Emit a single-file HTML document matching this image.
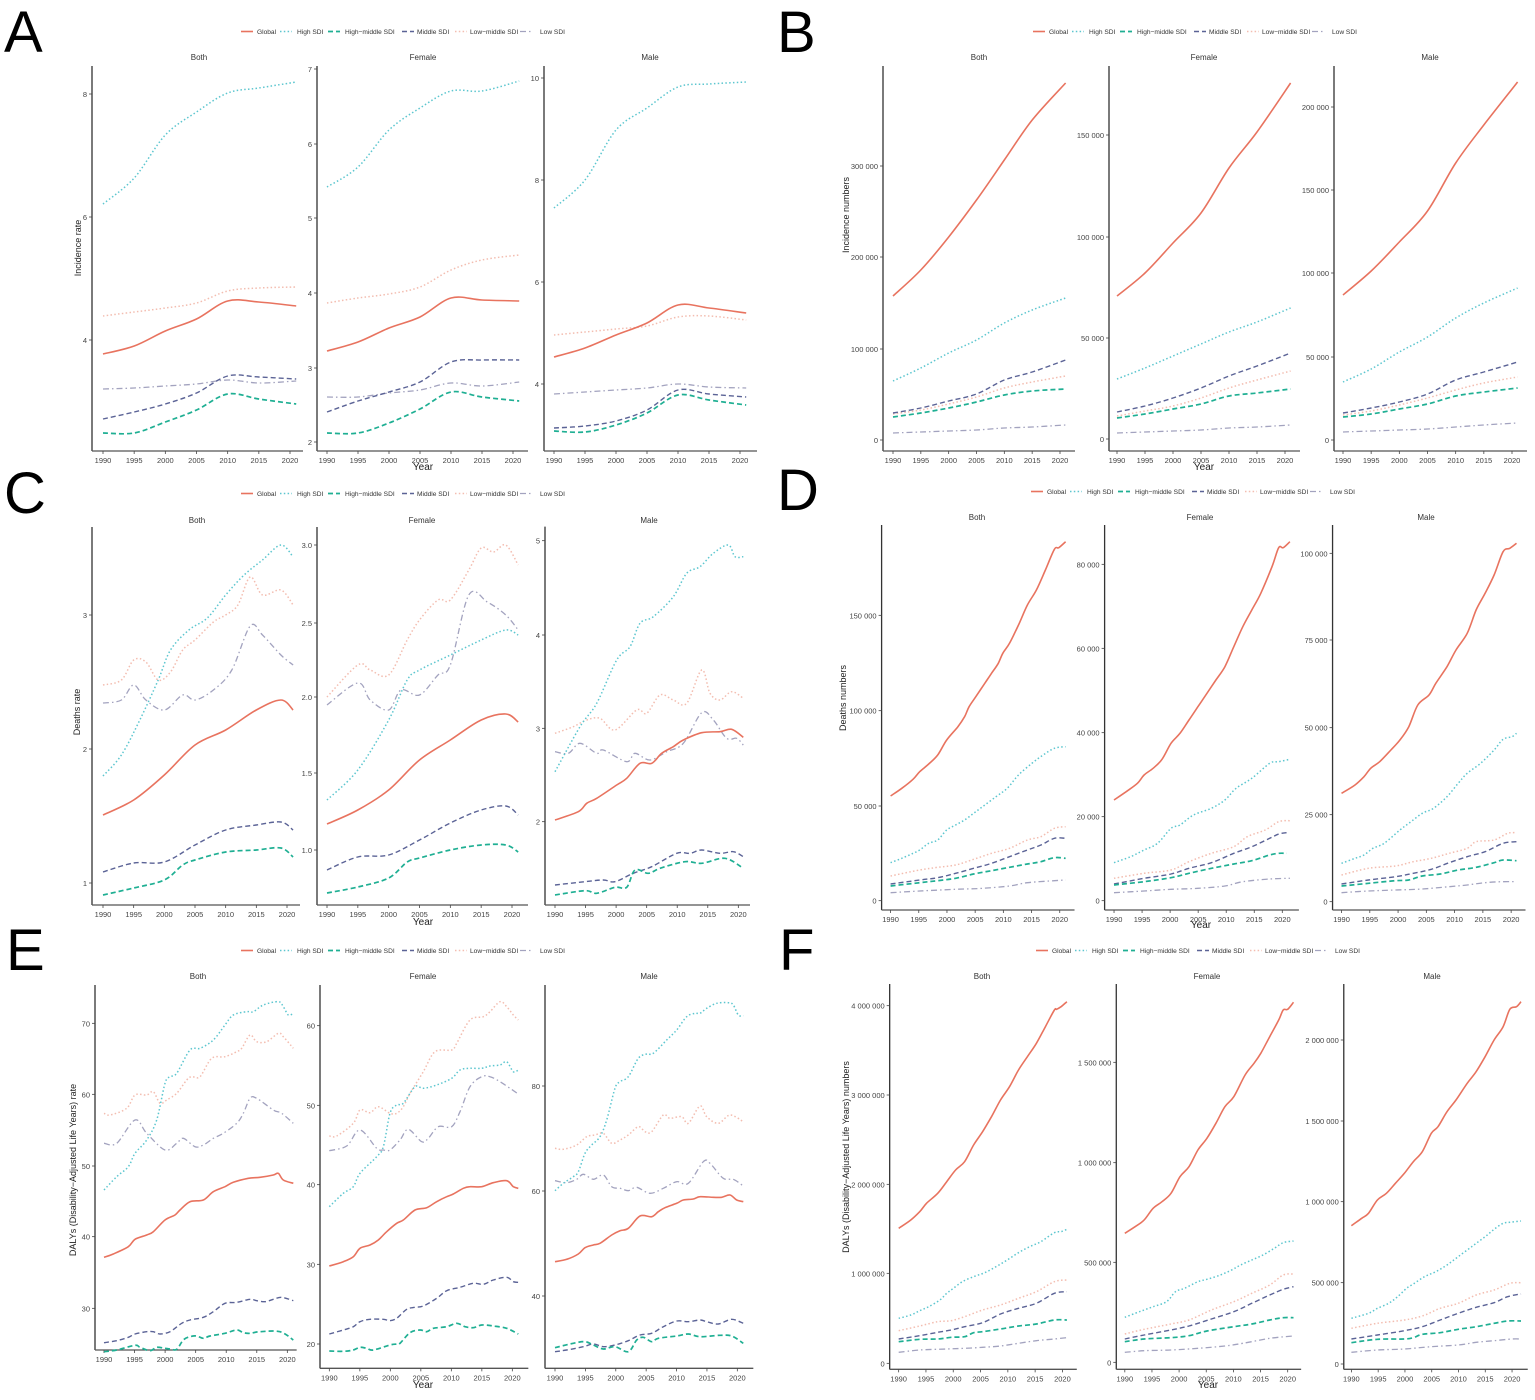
<!DOCTYPE html>
<html><head><meta charset="utf-8">
<style>
html,body{margin:0;padding:0;background:#fff;}
svg{display:block;font-family:"Liberation Sans",Arial,sans-serif;}
.lt{font-size:6.6px;fill:#333;}
.ft{font-size:8px;fill:#333;text-anchor:middle;}
.let{font-size:58px;fill:#000;}
.yt{font-size:9px;fill:#222;text-anchor:middle;}
.xt{font-size:10px;fill:#222;text-anchor:middle;}
</style></head><body>
<svg id="s" width="1535" height="1400" viewBox="0 0 1535 1400" xmlns="http://www.w3.org/2000/svg">
<rect width="1535" height="1400" fill="#fff"/>
<text class="let" x="4" y="52">A</text>
<text class="let" x="777" y="52">B</text>
<text class="let" x="4" y="513">C</text>
<text class="let" x="777" y="510">D</text>
<text class="let" x="6" y="970">E</text>
<text class="let" x="779" y="970">F</text>

<g id="legends"></g>

<text class="ft" x="199" y="60">Both</text><text class="ft" x="423" y="60">Female</text><text class="ft" x="650" y="60">Male</text>
<text class="ft" x="979" y="60">Both</text><text class="ft" x="1204" y="60">Female</text><text class="ft" x="1430" y="60">Male</text>
<text class="ft" x="197" y="523">Both</text><text class="ft" x="422" y="523">Female</text><text class="ft" x="649" y="523">Male</text>
<text class="ft" x="977" y="520">Both</text><text class="ft" x="1200" y="520">Female</text><text class="ft" x="1426" y="520">Male</text>
<text class="ft" x="198" y="979">Both</text><text class="ft" x="423" y="979">Female</text><text class="ft" x="649" y="979">Male</text>
<text class="ft" x="982" y="979">Both</text><text class="ft" x="1207" y="979">Female</text><text class="ft" x="1432" y="979">Male</text>

<text class="yt" transform="translate(81,248) rotate(-90)">Incidence rate</text>
<text class="yt" transform="translate(849,215) rotate(-90)">Incidence numbers</text>
<text class="yt" transform="translate(80,712) rotate(-90)">Deaths rate</text>
<text class="yt" transform="translate(846,698) rotate(-90)">Deaths numbers</text>
<text class="yt" transform="translate(76,1170) rotate(-90)">DALYs (Disability−Adjusted Life Years) rate</text>
<text class="yt" transform="translate(849,1157) rotate(-90)">DALYs (Disability−Adjusted Life Years) numbers</text>

<text class="xt" x="423" y="470">Year</text>
<text class="xt" x="1204" y="470">Year</text>
<text class="xt" x="423" y="925">Year</text>
<text class="xt" x="1201" y="928">Year</text>
<text class="xt" x="423" y="1388">Year</text>
<text class="xt" x="1208" y="1388">Year</text>

<g id="g"></g>
</svg>
<script>
const NS="http://www.w3.org/2000/svg";
const G=document.getElementById('g');
function el(t,a,p,txt){const e=document.createElementNS(NS,t);for(const k in a)e.setAttribute(k,a[k]);if(txt!==undefined)e.textContent=txt;(p||G).appendChild(e);return e;}
const ST={G:['#E8735F','',1.6],H:['#5CC6CF','1.5 2.3',1.5],HM:['#1FAF93','5 3',1.7],M:['#5B6396','5 3',1.4],LM:['#F3BDB0','1.5 2.3',1.5],L:['#A3A3BF','6 3 1.5 3',1.3]};
const ORDER=['L','LM','M','HM','H','G'];
const LEGN=['Global','High SDI','High−middle SDI','Middle SDI','Low−middle SDI','Low SDI'];
const LEGK=['G','H','HM','M','LM','L'];
const YEARS=["1990","1995","2000","2005","2010","2015","2020"];
const LG=document.getElementById('legends');
function legend(x0,y){const lx=[0,39,87,161,214,279],tx=[16,56,104,176,229,299];
 for(let i=0;i<6;i++){const s=ST[LEGK[i]];
  el('line',{x1:x0+lx[i],y1:y-2.5,x2:x0+lx[i]+12,y2:y-2.5,stroke:s[0],'stroke-width':s[2],'stroke-dasharray':s[1]},LG);
  el('text',{x:x0+tx[i],y:y,'class':'lt'},LG,LEGN[i]);}}
legend(241,34);legend(1033,34);legend(241,496);legend(1031,494);legend(241,953);legend(1036,953);

function path(pts){if(pts.length<2)return'';let d='M'+pts[0][0].toFixed(1)+','+pts[0][1].toFixed(1);
 for(let i=0;i<pts.length-1;i++){const p0=pts[Math.max(0,i-1)],p1=pts[i],p2=pts[i+1],p3=pts[Math.min(pts.length-1,i+2)];
  const c1=[p1[0]+(p2[0]-p0[0])/6,p1[1]+(p2[1]-p0[1])/6],c2=[p2[0]-(p3[0]-p1[0])/6,p2[1]-(p3[1]-p1[1])/6];
  d+='C'+c1[0].toFixed(1)+','+c1[1].toFixed(1)+' '+c2[0].toFixed(1)+','+c2[1].toFixed(1)+' '+p2[0].toFixed(1)+','+p2[1].toFixed(1);}
 return d;}

const YR=[1990,1995,2000,2005,2010,2015,2021];
function draw(f){
 const z=f.z; const fx=z?(v=>z[0]+v/z[2]):(v=>v), fy=z?(v=>z[1]+v/z[3]):(v=>v);
 const ax=fx(f.ax),rt=fx(f.rt),top=fy(f.top),bot=fy(f.bot),x0=fx(f.x0),x1=fx(f.x1);
 const k=(x1-x0)/30;
 el('line',{x1:ax,y1:top,x2:ax,y2:bot,stroke:'#333','stroke-width':1.3});
 el('line',{x1:ax,y1:bot,x2:rt,y2:bot,stroke:'#555','stroke-width':1.3});
 for(const [lab,yv] of f.yt){const Y=fy(yv);
  el('line',{x1:ax-3,y1:Y,x2:ax,y2:Y,stroke:'#444','stroke-width':0.8});
  el('text',{x:ax-5,y:Y+3,'font-size':'7.5',fill:'#444','text-anchor':'end'},null,lab);}
 YEARS.forEach((t,i)=>{const X=x0+i*5*k;
  el('line',{x1:X,y1:bot,x2:X,y2:bot+3,stroke:'#444','stroke-width':0.8});
  el('text',{x:X,y:bot+12,'font-size':'7.5',fill:'#444','text-anchor':'middle'},null,t);});
 for(const key of ORDER){const d=f.s[key];if(!d)continue;let pts;
  if(f.mode==='y') pts=d.map((y,i)=>[x0+(YR[i]-1990)*k,y]);
  else if(f.mode==='p') pts=d.map(p=>[x0+(p[0]-1990)*k,p[1]]);
  else pts=d.map(p=>[fx(p[0]),fy(p[1])]);
  const s=ST[key];
  el('path',{d:path(pts),fill:'none',stroke:s[0],'stroke-width':s[2],'stroke-dasharray':s[1],'stroke-linejoin':'round'});}
}
draw({mode:'y',ax:92,rt:303,top:66,bot:451,x0:103,x1:290,yt:[["8",94],["6",217],["4",340]],
 s:{H:[204,178,135,112,93,88,82],G:[354,346,331,319,301,302,306],LM:[316,312,308,303,291,288,287],L:[389,388,386,384,380,383,381],M:[419,412,404,393,376,377,379],HM:[433,433,422,410,394,399,404]}});
draw({mode:'y',ax:317,rt:528,top:66,bot:451,x0:327,x1:513,yt:[["7",69],["6",144],["5",218],["4",293],["3",368],["2",442]],
 s:{H:[187,167,130,108,91,91,81],G:[351,342,328,317,298,300,301],LM:[303,298,294,287,270,260,255],L:[397,397,393,390,383,386,382],M:[412,401,392,382,362,360,360],HM:[433,433,423,409,392,397,401]}});
draw({mode:'y',ax:544,rt:757,top:66,bot:451,x0:554,x1:740,yt:[["10",78],["8",180],["6",282],["4",384]],
 s:{H:[208,180,130,108,87,84,82],G:[357,348,335,323,305,308,313],LM:[335,332,329,326,317,316,320],L:[394,392,390,388,384,387,388],M:[428,426,421,410,390,394,397],HM:[431,432,425,413,395,400,405]}});
draw({mode:'y',ax:883,rt:1075,top:66,bot:451,x0:893,x1:1060,yt:[["0",440],["100 000",349],["200 000",257],["300 000",166]],
 s:{G:[296,270,237,200,160,120,83],H:[381,368,353,340,323,310,298],M:[413,408,401,394,380,372,360],LM:[414,410,404,397,388,382,376],HM:[417,413,408,402,395,391,389],L:[433,432,431,430,428,427,425]}});
draw({mode:'y',ax:1109,rt:1300,top:66,bot:451,x0:1117,x1:1285,yt:[["0",439],["50 000",338],["100 000",237],["150 000",135]],
 s:{G:[296,273,243,213,168,132,83],H:[379,368,356,344,332,322,308],M:[412,406,398,388,376,366,353],LM:[416,411,406,398,388,380,371],HM:[418,414,409,404,396,393,389],L:[433,432,431,430,428,427,425]}});
draw({mode:'y',ax:1334,rt:1527,top:66,bot:451,x0:1343,x1:1512,yt:[["0",440],["50 000",357],["100 000",273],["150 000",190],["200 000",107]],
 s:{G:[295,271,242,211,163,125,82],H:[382,369,352,337,318,303,288],M:[413,408,402,394,380,372,362],LM:[415,411,405,398,390,383,377],HM:[417,414,409,404,396,392,388],L:[432,431,430,429,427,425,423]}});
draw({mode:'p',ax:92,rt:300,top:527,bot:905,x0:103,x1:287,yt:[["3",615],["2",749],["1",883]],
 s:{H:[[1990,776],[1993,755],[1996,720],[1999,680],[2001,650],[2004,630],[2007,618],[2010,595],[2013,575],[2016,560],[2019,545],[2021,557]],
 LM:[[1990,685],[1993,680],[1995,660],[1997,662],[1999,680],[2001,672],[2003,650],[2005,640],[2008,622],[2010,615],[2012,605],[2014,577],[2016,595],[2019,590],[2021,605]],
 L:[[1990,703],[1993,700],[1995,685],[1997,700],[2000,710],[2003,695],[2005,700],[2008,690],[2011,670],[2014,626],[2016,635],[2019,655],[2021,665]],
 G:[[1990,815],[1995,800],[2000,775],[2005,745],[2010,730],[2015,710],[2019,700],[2021,710]],
 M:[[1990,872],[1995,863],[2000,862],[2005,845],[2010,830],[2015,825],[2019,822],[2021,830]],
 HM:[[1990,895],[1995,888],[2000,880],[2003,865],[2005,860],[2010,852],[2015,850],[2019,848],[2021,857]]}});
draw({mode:'p',ax:317,rt:528,top:527,bot:905,x0:327,x1:512,yt:[["3.0",545],["2.5",623],["2.0",697],["1.5",773],["1.0",850]],
 s:{H:[[1990,800],[1995,770],[2000,720],[2003,680],[2005,670],[2010,655],[2015,640],[2019,630],[2021,635]],
 LM:[[1990,697],[1995,665],[1997,670],[2000,675],[2003,640],[2005,620],[2008,600],[2010,600],[2013,570],[2015,548],[2017,552],[2019,545],[2021,565]],
 L:[[1990,705],[1995,683],[1997,700],[2000,710],[2002,690],[2005,695],[2008,675],[2010,665],[2013,595],[2016,602],[2019,615],[2021,630]],
 G:[[1990,824],[1995,810],[2000,790],[2005,760],[2010,740],[2015,720],[2019,714],[2021,722]],
 M:[[1990,870],[1995,857],[2000,855],[2005,840],[2010,823],[2015,810],[2019,806],[2021,815]],
 HM:[[1990,893],[1995,887],[2000,878],[2003,862],[2005,858],[2010,850],[2015,845],[2019,845],[2021,852]]}});
draw({mode:'z',z:[520,520,3,3],ax:75,rt:690,top:20,bot:1155,x0:105,x1:655,yt:[["5",62],["4",345],["3",625],["2",905]],
 s:{H:[[105,755],[180,620],[230,550],[290,420],[330,380],[360,310],[400,290],[460,230],[500,160],[540,140],[580,100],[625,75],[645,110],[670,110]],
 LM:[[105,640],[160,620],[200,600],[240,595],[285,630],[350,570],[380,580],[420,525],[460,540],[500,550],[545,450],[570,520],[600,540],[635,515],[670,535]],
 L:[[105,695],[145,700],[180,670],[230,700],[250,690],[320,725],[345,700],[390,720],[440,695],[490,670],[545,578],[580,600],[620,655],[650,655],[670,675]],
 G:[[105,900],[175,875],[200,850],[230,835],[290,795],[320,775],[360,730],[395,730],[425,700],[460,680],[490,660],[545,638],[600,635],[635,628],[670,652]],
 M:[[105,1095],[195,1085],[250,1080],[285,1085],[340,1060],[395,1040],[470,1000],[510,1000],[545,990],[600,1000],[640,995],[670,1010]],
 HM:[[105,1125],[195,1112],[230,1120],[285,1102],[320,1102],[345,1050],[385,1060],[420,1045],[495,1025],[545,1030],[615,1015],[670,1045]]}});
const DZ=[830,510,2.2286,3];
draw({mode:'z',z:DZ,ax:115,rt:545,top:45,bot:1200,x0:135,x1:512,yt:[["0",1172],["50 000",888],["100 000",602],["150 000",316]],
 s:{G:[[135,858],[160,835],[185,808],[200,785],[220,762],[240,735],[260,690],[285,650],[300,620],[310,590],[325,560],[345,520],[360,490],[375,460],[385,430],[400,400],[420,345],[440,285],[460,240],[480,180],[500,118],[510,113],[525,95]],
 H:[[135,1058],[160,1045],[185,1030],[200,1020],[220,1000],[240,990],[260,960],[280,945],[300,930],[320,910],[340,890],[370,860],[395,835],[420,795],[450,760],[475,735],[500,715],[525,710]],
 LM:[[135,1098],[200,1080],[240,1072],[280,1065],[320,1048],[360,1030],[400,1015],[440,990],[470,980],[500,955],[525,950]],
 M:[[135,1122],[200,1110],[240,1103],[280,1090],[320,1075],[360,1060],[400,1040],[440,1020],[470,1005],[500,985],[525,985]],
 HM:[[135,1128],[200,1118],[240,1112],[280,1105],[320,1092],[360,1082],[400,1072],[440,1062],[470,1055],[500,1043],[525,1045]],
 L:[[135,1148],[200,1143],[280,1138],[340,1135],[400,1128],[440,1118],[500,1112],[525,1110]]}});
draw({mode:'z',z:DZ,ax:612,rt:1045,top:45,bot:1200,x0:633,x1:1008,yt:[["0",1172],["20 000",920],["40 000",668],["60 000",415],["80 000",163]],
 s:{G:[[633,870],[660,845],[685,820],[700,795],[720,775],[740,748],[760,700],[780,670],[800,630],[820,590],[835,560],[860,510],[880,470],[900,410],[920,350],[940,300],[960,250],[985,170],[1000,113],[1010,113],[1025,95]],
 H:[[633,1058],[670,1040],[700,1020],[730,1000],[760,955],[780,945],[810,915],[850,895],[880,870],[905,835],[940,805],[980,760],[1000,755],[1025,748]],
 LM:[[633,1105],[700,1090],[760,1080],[800,1055],[850,1030],[900,1010],[930,980],[970,960],[1000,935],[1025,932]],
 M:[[633,1122],[700,1105],[760,1092],[800,1075],[850,1058],[900,1030],[940,1010],[980,985],[1000,972],[1018,968]],
 HM:[[633,1125],[700,1115],[760,1103],[800,1090],[850,1075],[900,1062],[940,1052],[980,1035],[1000,1030],[1018,1030]],
 L:[[633,1148],[700,1143],[760,1138],[820,1135],[880,1128],[920,1115],[980,1107],[1025,1105]]}});
draw({mode:'z',z:DZ,ax:1120,rt:1550,top:45,bot:1200,x0:1140,x1:1518,yt:[["0",1175],["25 000",914],["50 000",653],["75 000",390],["100 000",130]],
 s:{G:[[1140,850],[1170,825],[1190,800],[1205,775],[1225,755],[1250,720],[1270,690],[1290,650],[1310,585],[1335,555],[1350,520],[1375,470],[1395,420],[1420,370],[1440,300],[1460,250],[1480,195],[1500,125],[1515,115],[1530,100]],
 H:[[1140,1060],[1170,1045],[1190,1035],[1210,1015],[1235,1000],[1270,960],[1290,940],[1320,910],[1345,895],[1375,860],[1400,820],[1420,790],[1450,760],[1480,720],[1500,688],[1520,680],[1530,670]],
 LM:[[1140,1095],[1200,1075],[1260,1068],[1300,1055],[1340,1045],[1380,1030],[1420,1015],[1440,995],[1480,990],[1510,970],[1530,968]],
 M:[[1140,1122],[1200,1110],[1260,1100],[1300,1090],[1340,1078],[1380,1058],[1420,1040],[1460,1025],[1500,1000],[1530,995]],
 HM:[[1140,1128],[1200,1120],[1260,1112],[1290,1110],[1320,1098],[1360,1092],[1400,1080],[1440,1072],[1480,1058],[1500,1050],[1530,1052]],
 L:[[1140,1148],[1200,1143],[1260,1140],[1320,1137],[1380,1130],[1420,1125],[1460,1118],[1500,1115],[1530,1115]]}});
draw({mode:'z',z:[60,980,3,3],ax:105,rt:710,top:15,bot:1110,x0:132,x1:682,yt:[["70",130],["60",343],["50",558],["40",770],["30",985]],
 s:{H:[[132,630],[170,590],[205,560],[225,520],[260,480],[290,420],[315,310],[330,290],[350,280],[390,210],[420,205],[460,180],[495,135],[520,105],[560,95],[580,95],[610,75],[655,65],[670,80],[685,105],[700,100]],
 LM:[[132,400],[150,405],[200,385],[225,345],[260,345],[280,335],[300,370],[320,360],[350,340],[380,300],[395,290],[420,290],[455,235],[495,230],[530,215],[545,205],[570,165],[590,185],[620,185],[655,160],[670,170],[700,205]],
 L:[[132,490],[170,490],[225,420],[260,460],[315,510],[350,490],[370,475],[405,500],[430,495],[460,475],[490,460],[530,430],[550,400],[570,355],[590,355],[640,390],[665,400],[700,430]],
 G:[[132,832],[160,822],[205,800],[225,778],[260,765],[280,755],[315,720],[345,705],[360,690],[390,665],[430,660],[460,635],[495,620],[520,607],[565,595],[600,592],[640,585],[655,580],[670,600],[700,610]],
 M:[[132,1088],[170,1082],[205,1072],[225,1062],[260,1055],[280,1055],[300,1062],[330,1055],[365,1030],[390,1020],[430,1012],[460,995],[495,970],[530,967],[570,958],[590,962],[615,965],[640,958],[665,952],[700,962]],
 HM:[[132,1115],[170,1110],[225,1096],[240,1102],[270,1112],[290,1102],[315,1105],[330,1107],[350,1108],[370,1080],[390,1070],[410,1068],[430,1075],[450,1068],[495,1060],[530,1050],[550,1058],[570,1060],[600,1055],[660,1055],[700,1080]]}});
draw({mode:'z',z:[300,980,3,3],ax:60,rt:685,top:15,bot:1165,x0:88,x1:637,yt:[["60",137],["50",376],["40",614],["30",853],["20",1092]],
 s:{H:[[88,680],[130,640],[160,620],[180,580],[230,530],[250,500],[270,400],[290,375],[310,370],[345,320],[370,325],[410,315],[455,295],[480,270],[510,265],[545,265],[570,258],[600,255],[620,245],[640,275],[655,270]],
 LM:[[88,468],[110,468],[160,430],[180,390],[210,398],[235,380],[270,400],[290,400],[310,380],[330,340],[370,275],[405,215],[455,210],[470,190],[510,120],[550,110],[570,95],[600,65],[620,80],[640,105],[655,120]],
 L:[[88,512],[140,498],[180,450],[230,505],[250,510],[270,510],[300,480],[325,448],[365,485],[385,475],[415,440],[455,440],[480,395],[510,320],[545,290],[570,290],[600,305],[630,325],[655,342]],
 G:[[88,858],[130,845],[160,830],[180,805],[210,795],[235,780],[260,755],[290,730],[310,720],[345,690],[380,683],[410,665],[440,650],[460,642],[490,625],[510,620],[545,620],[580,608],[620,602],[640,620],[655,625]],
 M:[[88,1062],[130,1050],[160,1040],[180,1025],[210,1018],[250,1018],[270,1022],[290,1015],[320,988],[345,982],[370,978],[410,955],[440,932],[480,922],[520,910],[550,913],[580,900],[620,892],[640,905],[655,907]],
 HM:[[88,1113],[130,1114],[160,1110],[180,1102],[200,1105],[220,1110],[270,1095],[290,1092],[300,1090],[330,1058],[360,1050],[380,1055],[400,1045],[440,1040],[470,1030],[495,1040],[520,1043],[545,1035],[580,1038],[620,1045],[655,1062]]}});
draw({mode:'z',z:[300,980,3,3],ax:735,rt:1360,top:15,bot:1165,x0:765,x1:1312,yt:[["80",318],["60",633],["40",948]],
 s:{H:[[765,632],[790,610],[820,590],[835,575],[855,520],[875,495],[900,470],[920,420],[945,325],[960,305],[985,290],[1015,235],[1040,222],[1060,220],[1100,180],[1130,150],[1160,110],[1185,100],[1200,100],[1220,85],[1250,70],[1285,68],[1300,75],[1315,105],[1330,108]],
 LM:[[765,505],[790,508],[830,495],[860,470],[885,465],[910,460],[935,490],[960,480],[985,465],[1015,440],[1035,455],[1055,455],[1090,405],[1110,415],[1145,410],[1165,430],[1200,378],[1220,410],[1255,430],[1290,405],[1330,425]],
 L:[[765,602],[800,608],[830,598],[850,583],[880,598],[910,585],[935,620],[960,625],[985,632],[1010,622],[1050,640],[1090,625],[1130,605],[1165,610],[1210,545],[1230,550],[1270,595],[1300,598],[1330,618]],
 G:[[765,845],[800,838],[835,822],[855,803],[880,795],[900,790],[935,765],[960,752],[985,745],[1020,708],[1055,710],[1075,695],[1095,683],[1130,670],[1150,660],[1180,657],[1200,650],[1240,652],[1265,652],[1290,645],[1310,660],[1330,665]],
 M:[[765,1115],[800,1110],[850,1100],[880,1092],[910,1100],[945,1095],[985,1082],[1020,1065],[1055,1060],[1090,1040],[1130,1023],[1165,1025],[1200,1020],[1220,1025],[1255,1032],[1295,1018],[1330,1030]],
 HM:[[765,1103],[820,1090],[855,1085],[880,1095],[910,1107],[945,1100],[985,1115],[1010,1080],[1030,1072],[1055,1085],[1075,1075],[1130,1068],[1165,1062],[1200,1070],[1260,1066],[1295,1068],[1330,1090]]}});
const FZ=[830,960,2.2286,3];
draw({mode:'z',z:FZ,ax:133,rt:550,top:72,bot:1228,x0:153,x1:518,yt:[["0",1210],["1 000 000",940],["2 000 000",673],["3 000 000",405],["4 000 000",137]],
 s:{G:[[153,805],[180,780],[200,755],[215,730],[240,700],[260,665],[280,630],[300,605],[320,555],[340,515],[360,470],[380,420],[400,380],[420,330],[440,290],[460,250],[480,200],[500,150],[505,148],[515,140],[528,125]],
 H:[[153,1075],[180,1065],[200,1052],[220,1040],[245,1020],[260,1000],[275,985],[295,965],[320,950],[345,938],[370,920],[395,900],[420,878],[445,860],[470,845],[500,818],[515,815],[528,808]],
 LM:[[153,1112],[200,1098],[240,1085],[270,1082],[300,1070],[340,1050],[380,1035],[420,1015],[460,995],[500,965],[528,960]],
 M:[[153,1137],[200,1127],[240,1117],[270,1110],[300,1100],[340,1088],[380,1062],[420,1045],[460,1030],[500,1000],[528,995]],
 HM:[[153,1145],[200,1138],[240,1137],[270,1132],[300,1130],[320,1118],[340,1115],[380,1107],[420,1098],[460,1092],[500,1080],[528,1080]],
 L:[[153,1177],[200,1170],[260,1167],[300,1165],[340,1162],[380,1158],[420,1150],[460,1142],[500,1137],[528,1133]]}});
draw({mode:'z',z:FZ,ax:638,rt:1050,top:72,bot:1228,x0:657,x1:1020,yt:[["0",1207],["500 000",907],["1 000 000",608],["1 500 000",307]],
 s:{G:[[657,820],[680,800],[700,780],[720,745],[740,725],[760,700],[780,650],[800,620],[820,570],[840,535],[860,490],[880,440],[900,410],[925,345],[945,310],[960,280],[980,230],[1000,180],[1010,150],[1020,148],[1033,127]],
 H:[[657,1072],[680,1060],[700,1050],[720,1040],[750,1025],[770,995],[790,985],[820,965],[840,958],[870,945],[895,930],[915,915],[940,900],[965,885],[990,865],[1010,848],[1033,843]],
 LM:[[657,1122],[700,1108],[760,1092],[800,1080],[850,1050],[900,1025],[940,1000],[980,975],[1010,945],[1033,942]],
 M:[[657,1137],[700,1125],[760,1110],[800,1098],[850,1077],[900,1055],[940,1030],[980,1005],[1010,988],[1033,980]],
 HM:[[657,1145],[700,1137],[760,1133],[800,1127],[840,1113],[900,1100],[940,1092],[980,1080],[1010,1073],[1033,1073]],
 L:[[657,1177],[700,1172],[760,1170],[820,1165],[880,1158],[920,1150],[980,1135],[1033,1128]]}});
draw({mode:'z',z:FZ,ax:1145,rt:1555,top:72,bot:1228,x0:1162,x1:1520,yt:[["0",1212],["500 000",968],["1 000 000",725],["1 500 000",483],["2 000 000",240]],
 s:{G:[[1162,797],[1185,775],[1200,760],[1220,720],[1240,700],[1260,670],[1280,640],[1300,605],[1320,575],[1340,520],[1355,500],[1375,455],[1395,420],[1420,370],[1440,335],[1460,290],[1480,240],[1500,200],[1515,148],[1530,140],[1540,125]],
 H:[[1162,1075],[1200,1060],[1220,1045],[1245,1030],[1265,1010],[1285,985],[1300,972],[1325,950],[1350,935],[1375,915],[1400,890],[1430,860],[1460,830],[1480,808],[1500,790],[1515,787],[1540,783]],
 LM:[[1162,1105],[1220,1090],[1280,1080],[1320,1068],[1360,1045],[1400,1030],[1440,1005],[1480,990],[1515,970],[1540,968]],
 M:[[1162,1137],[1220,1125],[1280,1112],[1320,1100],[1360,1080],[1400,1060],[1440,1042],[1480,1028],[1510,1010],[1540,1002]],
 HM:[[1162,1148],[1220,1138],[1280,1137],[1300,1133],[1320,1123],[1360,1118],[1400,1108],[1440,1100],[1480,1090],[1510,1083],[1540,1083]],
 L:[[1162,1177],[1220,1170],[1280,1167],[1340,1160],[1400,1155],[1440,1147],[1480,1142],[1520,1137],[1540,1137]]}});
</script>
</body></html>
